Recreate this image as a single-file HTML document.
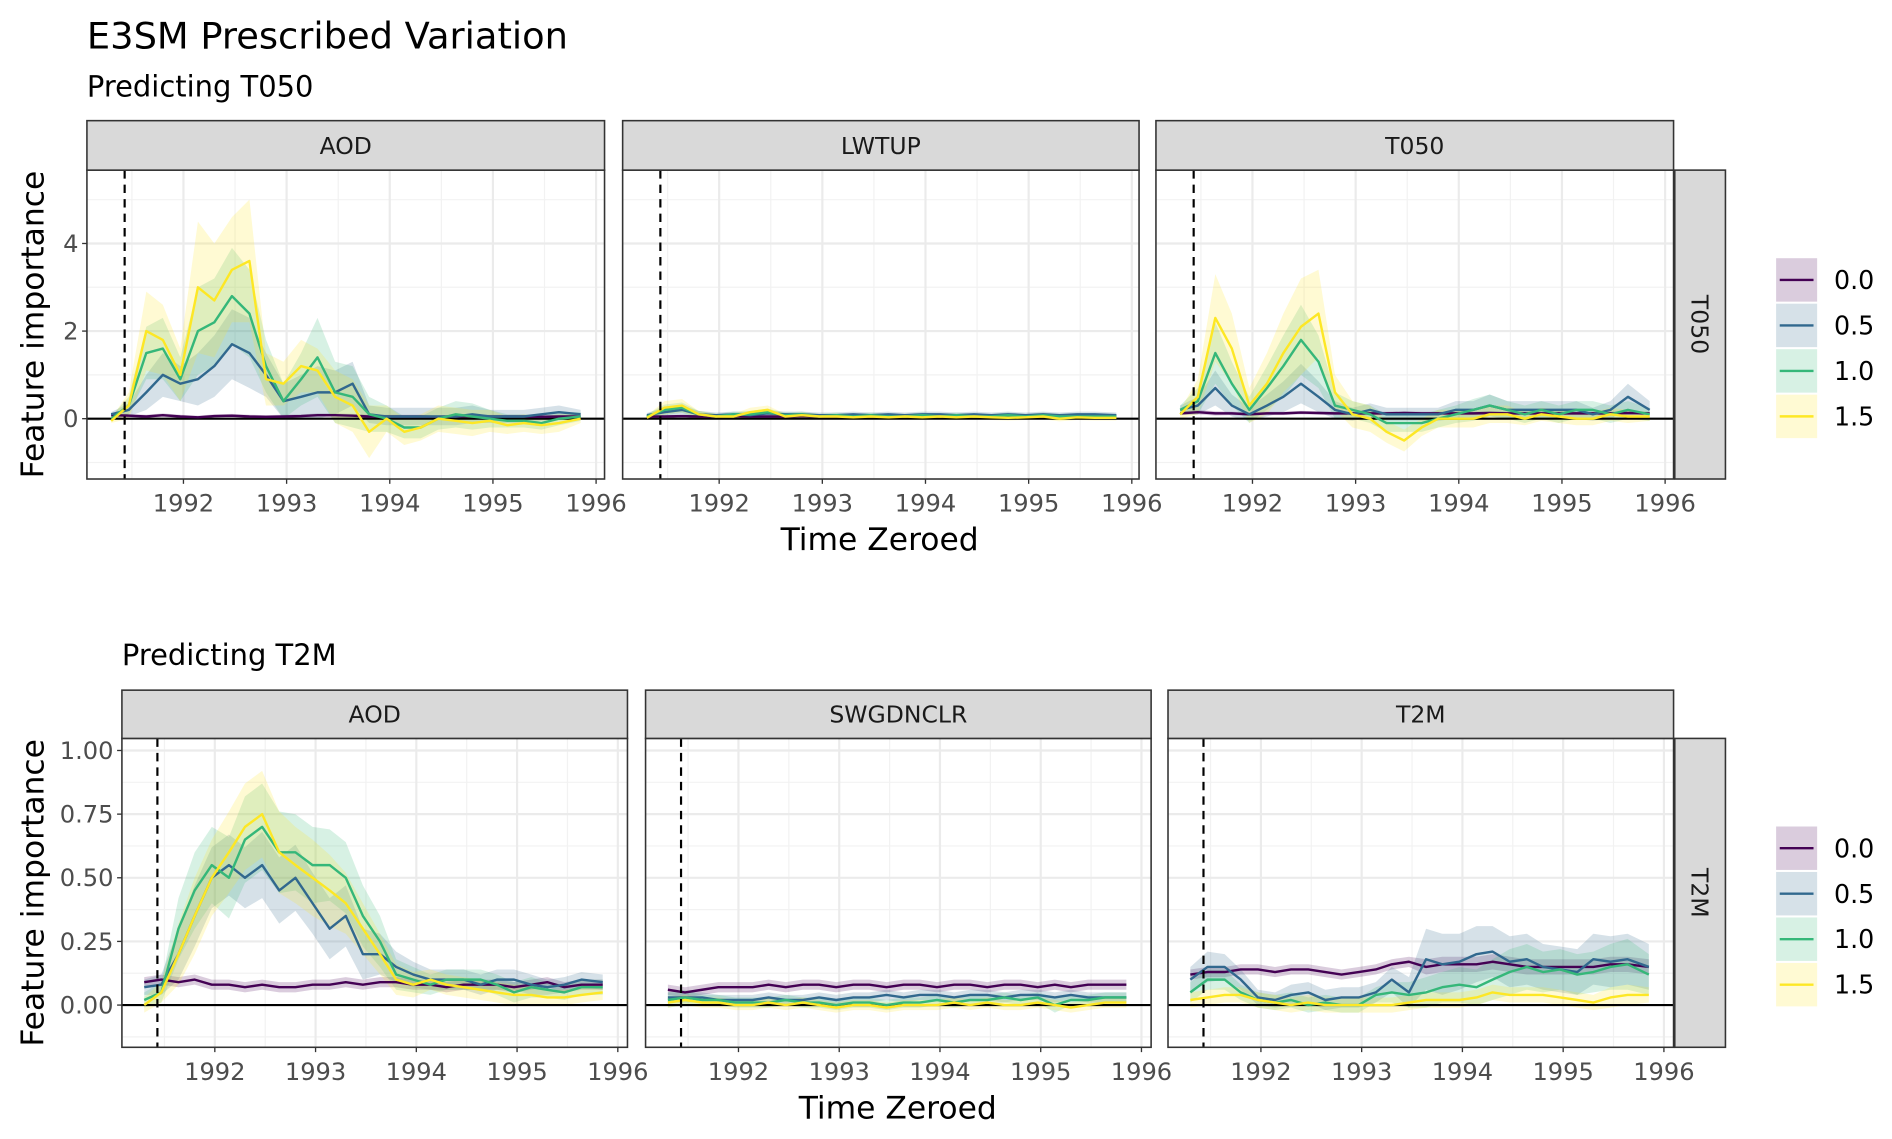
<!DOCTYPE html>
<html><head><meta charset="utf-8"><style>
html,body{margin:0;padding:0;background:#fff;}
svg{display:block;font-family:"DejaVu Sans","Liberation Sans",sans-serif;}
</style></head><body>
<svg id="chart" width="1892" height="1139" viewBox="0 0 1568 944" xmlns="http://www.w3.org/2000/svg">
<text x="72" y="40" font-size="30.5" fill="#000">E3SM Prescribed Variation</text>
<text x="72" y="80" font-size="24" fill="#000">Predicting T050</text>
<text x="101" y="551" font-size="24" fill="#000">Predicting T2M</text>
<g id="plots"></g>
</svg>
<script>
// time axis: bimonthly
const times = [1991.3,1991.47,1991.64,1991.8,1991.97,1992.14,1992.3,1992.47,1992.64,1992.8,1992.97,1993.14,1993.3,1993.47,1993.64,1993.8,1993.97,1994.14,1994.3,1994.47,1994.64,1994.8,1994.97,1995.14,1995.3,1995.47,1995.64,1995.85];
const levels = ["0.0","0.5","1.0","1.5"];
const colors = ["#440154","#31688E","#35B779","#FDE725"];
const eventYear = 1991.43;
const xTicks = [1992,1993,1994,1995,1996];
const topYTicks = [0,2,4];
const botYTicks = [0,0.25,0.5,0.75,1];
const botYLabels = ["0.00","0.25","0.50","0.75","1.00"];

// Top row: predicting T050
const tAOD_m = [
[0.08,0.07,0.05,0.08,0.05,0.03,0.06,0.07,0.05,0.04,0.05,0.06,0.08,0.08,0.07,0.05,0.05,0.05,0.05,0.04,0.05,0.06,0.05,0.05,0.05,0.04,0.05,0.05],
[0.1,0.2,0.6,1.0,0.8,0.9,1.2,1.7,1.5,1.0,0.4,0.5,0.6,0.6,0.8,0.1,0.05,0.05,0.05,0.05,0.05,0.1,0.05,0.05,0.05,0.1,0.15,0.1],
[0,0.3,1.5,1.6,0.9,2.0,2.2,2.8,2.4,1.2,0.4,0.9,1.4,0.6,0.5,0.1,0,-0.2,-0.2,0,0.1,0.05,0,-0.05,-0.05,-0.1,0,0.05],
[-0.05,0.3,2.0,1.8,1.0,3.0,2.7,3.4,3.6,0.9,0.8,1.2,1.1,0.5,0.3,-0.3,0,-0.3,-0.2,0,-0.05,-0.1,-0.05,-0.15,-0.1,-0.15,-0.1,0]];
const tAOD_s = [
[0.04,0.04,0.04,0.04,0.04,0.04,0.04,0.04,0.04,0.04,0.04,0.04,0.04,0.04,0.04,0.04,0.04,0.04,0.04,0.04,0.04,0.04,0.04,0.04,0.04,0.04,0.04,0.04],
[0.05,0.15,0.4,0.5,0.4,0.6,0.7,0.8,0.8,0.5,0.4,0.5,0.6,0.5,0.5,0.2,0.2,0.2,0.2,0.2,0.2,0.2,0.15,0.15,0.15,0.15,0.15,0.1],
[0.05,0.2,0.6,0.7,0.5,1.0,1.0,1.1,1.0,0.6,0.4,0.6,0.9,0.7,0.7,0.4,0.3,0.25,0.25,0.25,0.3,0.3,0.2,0.15,0.15,0.15,0.15,0.1],
[0.05,0.3,0.9,0.8,0.6,1.5,1.3,1.2,1.4,0.6,0.5,0.6,0.5,0.6,0.6,0.6,0.3,0.3,0.3,0.3,0.3,0.3,0.25,0.2,0.2,0.2,0.2,0.1]];
const tLW_m = [
[0.05,0.05,0.06,0.05,0.05,0.06,0.05,0.05,0.05,0.06,0.05,0.05,0.05,0.05,0.05,0.05,0.05,0.05,0.05,0.05,0.05,0.05,0.05,0.05,0.05,0.05,0.05,0.05],
[0.08,0.15,0.2,0.1,0.08,0.1,0.08,0.12,0.1,0.1,0.08,0.08,0.1,0.08,0.1,0.08,0.1,0.1,0.08,0.1,0.08,0.1,0.08,0.1,0.08,0.1,0.1,0.08],
[0.05,0.2,0.25,0.1,0.05,0.1,0.1,0.15,0.08,0.1,0.05,0.08,0.05,0.08,0.05,0.05,0.08,0.05,0.08,0.05,0.05,0.08,0.05,0.08,0.05,0.05,0.05,0.05],
[0.02,0.25,0.3,0.1,0.05,0.05,0.15,0.2,0.05,0.08,0.05,0.05,0.03,0.05,0.03,0.05,0.03,0.05,0.03,0.05,0.03,0.02,0.03,0.05,0.0,0.03,0.02,0.02]];
const tLW_s = [
[0.03,0.03,0.03,0.03,0.03,0.03,0.03,0.03,0.03,0.03,0.03,0.03,0.03,0.03,0.03,0.03,0.03,0.03,0.03,0.03,0.03,0.03,0.03,0.03,0.03,0.03,0.03,0.03],
[0.05,0.1,0.1,0.08,0.06,0.06,0.06,0.06,0.06,0.06,0.06,0.06,0.06,0.06,0.06,0.06,0.06,0.06,0.06,0.06,0.06,0.06,0.06,0.06,0.06,0.06,0.06,0.06],
[0.05,0.12,0.12,0.08,0.06,0.06,0.08,0.08,0.06,0.06,0.06,0.06,0.06,0.06,0.06,0.06,0.06,0.06,0.06,0.06,0.06,0.06,0.06,0.06,0.06,0.06,0.06,0.06],
[0.05,0.15,0.15,0.08,0.06,0.06,0.1,0.1,0.06,0.06,0.06,0.06,0.06,0.06,0.06,0.06,0.06,0.06,0.06,0.06,0.06,0.06,0.06,0.06,0.06,0.06,0.06,0.06]];
const tT_m = [
[0.12,0.15,0.12,0.12,0.1,0.12,0.12,0.14,0.13,0.12,0.12,0.12,0.12,0.13,0.12,0.12,0.12,0.12,0.13,0.12,0.12,0.12,0.12,0.12,0.12,0.12,0.13,0.12],
[0.2,0.3,0.7,0.3,0.1,0.3,0.5,0.8,0.5,0.2,0.1,0.2,0.1,0.1,0.1,0.1,0.2,0.2,0.3,0.2,0.2,0.2,0.2,0.2,0.1,0.2,0.5,0.2],
[0.2,0.4,1.5,0.8,0.2,0.7,1.2,1.8,1.3,0.3,0.2,0.1,-0.1,-0.1,-0.1,0,0.1,0.2,0.3,0.2,0.1,0.2,0.1,0.2,0.2,0.1,0.2,0.1],
[0.1,0.5,2.3,1.6,0.3,0.8,1.5,2.1,2.4,0.6,0.1,0,-0.3,-0.5,-0.2,0,0,0,0.1,0.1,0,0.1,0.05,0,0,0.1,0.05,0.05]];
const tT_s = [
[0.04,0.05,0.05,0.04,0.04,0.04,0.04,0.04,0.04,0.04,0.04,0.04,0.04,0.04,0.04,0.04,0.04,0.04,0.04,0.04,0.04,0.04,0.04,0.04,0.04,0.04,0.04,0.04],
[0.1,0.2,0.4,0.25,0.15,0.25,0.35,0.45,0.35,0.2,0.15,0.15,0.15,0.15,0.15,0.15,0.2,0.2,0.25,0.2,0.2,0.2,0.2,0.2,0.15,0.2,0.3,0.2],
[0.1,0.3,0.7,0.5,0.3,0.5,0.7,0.8,0.6,0.3,0.2,0.2,0.2,0.2,0.2,0.2,0.2,0.25,0.25,0.2,0.2,0.2,0.2,0.2,0.2,0.2,0.2,0.15],
[0.1,0.4,1.0,0.8,0.4,0.7,0.9,1.1,1.0,0.4,0.3,0.3,0.25,0.25,0.2,0.2,0.2,0.2,0.2,0.2,0.15,0.15,0.15,0.15,0.15,0.15,0.15,0.1]];

// Bottom row: predicting T2M
const bAOD_m = [
[0.09,0.1,0.09,0.1,0.08,0.08,0.07,0.08,0.07,0.07,0.08,0.08,0.09,0.08,0.09,0.09,0.08,0.08,0.07,0.08,0.08,0.08,0.07,0.08,0.09,0.07,0.08,0.08],
[0.07,0.08,0.2,0.35,0.5,0.55,0.5,0.55,0.45,0.5,0.4,0.3,0.35,0.2,0.2,0.15,0.12,0.1,0.1,0.1,0.08,0.1,0.1,0.08,0.07,0.08,0.1,0.09],
[0.02,0.05,0.3,0.45,0.55,0.5,0.65,0.7,0.6,0.6,0.55,0.55,0.5,0.35,0.25,0.12,0.1,0.08,0.1,0.1,0.1,0.08,0.05,0.07,0.06,0.05,0.07,0.07],
[0,0.05,0.2,0.35,0.5,0.6,0.7,0.75,0.6,0.55,0.5,0.45,0.4,0.3,0.2,0.1,0.08,0.1,0.08,0.07,0.06,0.05,0.04,0.04,0.03,0.03,0.04,0.05]];
const bAOD_s = [
[0.02,0.02,0.02,0.02,0.02,0.02,0.02,0.02,0.02,0.02,0.02,0.02,0.02,0.02,0.02,0.02,0.02,0.02,0.02,0.02,0.02,0.02,0.02,0.02,0.02,0.02,0.02,0.02],
[0.03,0.04,0.1,0.12,0.12,0.12,0.12,0.13,0.13,0.13,0.12,0.12,0.12,0.1,0.08,0.06,0.05,0.04,0.04,0.04,0.04,0.04,0.04,0.04,0.03,0.03,0.03,0.03],
[0.03,0.04,0.12,0.15,0.15,0.16,0.17,0.17,0.16,0.15,0.15,0.14,0.14,0.12,0.1,0.06,0.05,0.04,0.04,0.04,0.04,0.04,0.04,0.04,0.03,0.03,0.03,0.03],
[0.03,0.04,0.12,0.15,0.15,0.16,0.17,0.17,0.16,0.15,0.15,0.14,0.12,0.1,0.08,0.06,0.05,0.04,0.04,0.04,0.04,0.04,0.04,0.04,0.03,0.03,0.03,0.03]];
const bSW_m = [
[0.06,0.05,0.06,0.07,0.07,0.07,0.08,0.07,0.08,0.08,0.07,0.08,0.08,0.07,0.08,0.08,0.07,0.08,0.08,0.07,0.08,0.08,0.07,0.08,0.07,0.08,0.08,0.08],
[0.03,0.03,0.03,0.02,0.02,0.02,0.03,0.02,0.02,0.03,0.02,0.03,0.03,0.04,0.03,0.04,0.04,0.03,0.04,0.04,0.03,0.04,0.04,0.03,0.04,0.03,0.03,0.03],
[0.02,0.03,0.02,0.02,0.01,0.01,0.01,0.02,0.01,0.01,0.0,0.01,0.01,0.0,0.01,0.01,0.02,0.01,0.02,0.02,0.03,0.02,0.03,0.0,0.02,0.02,0.03,0.03],
[0.01,0.02,0.01,0.01,0.0,0.0,0.01,0.0,0.01,0.0,-0.01,0.0,0.0,-0.01,0.0,0.0,0.0,0.01,0.0,0.01,0.0,0.0,0.01,0.0,-0.01,0.0,0.01,0.01]];
const bSW_s = [
[0.02,0.02,0.02,0.02,0.02,0.02,0.02,0.02,0.02,0.02,0.02,0.02,0.02,0.02,0.02,0.02,0.02,0.02,0.02,0.02,0.02,0.02,0.02,0.02,0.02,0.02,0.02,0.02],
[0.02,0.02,0.02,0.02,0.02,0.02,0.02,0.02,0.02,0.02,0.02,0.02,0.02,0.02,0.02,0.02,0.02,0.02,0.02,0.02,0.02,0.02,0.02,0.02,0.02,0.02,0.02,0.02],
[0.03,0.03,0.02,0.02,0.02,0.02,0.02,0.02,0.02,0.02,0.02,0.02,0.02,0.02,0.02,0.02,0.02,0.02,0.02,0.02,0.02,0.02,0.02,0.03,0.02,0.02,0.02,0.02],
[0.02,0.02,0.02,0.02,0.02,0.02,0.02,0.02,0.02,0.02,0.02,0.02,0.02,0.02,0.02,0.02,0.02,0.02,0.02,0.02,0.02,0.02,0.02,0.02,0.02,0.02,0.02,0.02]];
const bT_m = [
[0.12,0.13,0.13,0.14,0.14,0.13,0.14,0.14,0.13,0.12,0.13,0.14,0.16,0.17,0.15,0.16,0.16,0.16,0.17,0.16,0.15,0.15,0.15,0.15,0.15,0.16,0.16,0.15],
[0.1,0.15,0.15,0.1,0.03,0.02,0.04,0.05,0.02,0.03,0.03,0.05,0.1,0.05,0.18,0.16,0.17,0.2,0.21,0.17,0.18,0.15,0.14,0.13,0.18,0.17,0.18,0.15],
[0.05,0.1,0.1,0.05,0.02,0.01,0.02,0.0,0.01,0.0,0.0,0.04,0.05,0.04,0.05,0.07,0.08,0.07,0.1,0.13,0.15,0.13,0.14,0.12,0.13,0.15,0.16,0.12],
[0.02,0.03,0.04,0.04,0.02,0.01,0.0,0.01,0.0,0.0,0.0,0.0,0.0,0.01,0.02,0.02,0.02,0.03,0.05,0.04,0.04,0.04,0.03,0.02,0.01,0.03,0.04,0.04]];
const bT_s = [
[0.02,0.02,0.02,0.02,0.02,0.02,0.02,0.02,0.02,0.02,0.02,0.02,0.02,0.02,0.03,0.03,0.03,0.03,0.03,0.03,0.03,0.03,0.03,0.03,0.03,0.03,0.03,0.03],
[0.05,0.06,0.05,0.04,0.03,0.03,0.04,0.04,0.04,0.04,0.04,0.04,0.05,0.06,0.12,0.12,0.11,0.11,0.1,0.1,0.1,0.09,0.09,0.09,0.1,0.1,0.1,0.09],
[0.04,0.04,0.04,0.03,0.03,0.03,0.03,0.03,0.03,0.03,0.03,0.03,0.04,0.05,0.06,0.06,0.07,0.07,0.08,0.09,0.09,0.08,0.08,0.08,0.08,0.09,0.1,0.08],
[0.03,0.03,0.03,0.03,0.03,0.03,0.03,0.03,0.03,0.03,0.03,0.03,0.03,0.03,0.03,0.03,0.03,0.03,0.03,0.03,0.03,0.03,0.03,0.03,0.03,0.04,0.04,0.03]];

const NS="http://www.w3.org/2000/svg";
const root=document.getElementById('plots');
function el(tag,attrs,parent){const e=document.createElementNS(NS,tag);for(const k in attrs)e.setAttribute(k,attrs[k]);(parent||root).appendChild(e);return e;}

function panel(cfg){
  const g=el('g',{});
  
  
  const {x0,x1,y0,y1,xOff,pxYear,zeroY,pxUnit}=cfg;
  const X=t=>x0+xOff+(t-1992)*pxYear;
  const Y=v=>zeroY-v*pxUnit;
  el('rect',{x:x0,y:y0,width:x1-x0,height:y1-y0,fill:'#fff'},g);
  for(let t=1991;t<=1996;t++){const xm=X(t+0.5);if(xm>x0&&xm<x1)el('line',{x1:xm,x2:xm,y1:y0,y2:y1,stroke:'#f2f2f2','stroke-width':1},g);}
  cfg.minorY.forEach(v=>{const y=Y(v);if(y>y0&&y<y1)el('line',{x1:x0,x2:x1,y1:y,y2:y,stroke:'#f2f2f2','stroke-width':1},g);});
  xTicks.forEach(t=>el('line',{x1:X(t),x2:X(t),y1:y0,y2:y1,stroke:'#ebebeb','stroke-width':1.8},g));
  cfg.yTicks.forEach(v=>el('line',{x1:x0,x2:x1,y1:Y(v),y2:Y(v),stroke:'#ebebeb','stroke-width':1.8},g));
  cfg.means.forEach((m,si)=>{
    const s=cfg.sds[si];
    let d='M'+times.map((t,i)=>X(t).toFixed(1)+','+Y(m[i]+s[i]).toFixed(1)).join('L');
    d+='L'+times.slice().reverse().map((t,j)=>{const i=times.length-1-j;return X(t).toFixed(1)+','+Y(m[i]-s[i]).toFixed(1);}).join('L')+'Z';
    const r=el('path',{d:d,fill:colors[si],'fill-opacity':0.2},g);
    
    
  });
  el('line',{x1:x0,x2:x1,y1:Y(0),y2:Y(0),stroke:'#000','stroke-width':1.8},g);
  cfg.means.forEach((m,si)=>{
    const p=el('polyline',{points:times.map((t,i)=>X(t).toFixed(1)+','+Y(m[i]).toFixed(1)).join(' '),fill:'none',stroke:colors[si],'stroke-width':2,'stroke-linejoin':'round'},g);
    
    
  });
  el('line',{x1:X(eventYear),x2:X(eventYear),y1:y0,y2:y1,stroke:'#000','stroke-width':1.8,'stroke-dasharray':'7,5'},g);
  el('rect',{x:x0,y:y0,width:x1-x0,height:y1-y0,fill:'none',stroke:'#333','stroke-width':1.3},g);
  const st=el('rect',{x:x0,y:cfg.sy,width:x1-x0,height:y0-cfg.sy,fill:'#d9d9d9',stroke:'#333','stroke-width':1.3},g);
  
  
  const tx=el('text',{x:(x0+x1)/2,y:(cfg.sy+y0)/2+7,'text-anchor':'middle','font-size':19.5,fill:'#1a1a1a'},g);tx.textContent=cfg.label;
  xTicks.forEach(t=>{el('line',{x1:X(t),x2:X(t),y1:y1,y2:y1+4,stroke:'#333','stroke-width':1.1},g);
    const l=el('text',{x:X(t),y:y1+27,'text-anchor':'middle','font-size':20,fill:'#4d4d4d'},g);l.textContent=t;});
  if(cfg.showY){cfg.yTicks.forEach((v,i)=>{el('line',{x1:x0-4,x2:x0,y1:Y(v),y2:Y(v),stroke:'#333','stroke-width':1.1},g);
    const l=el('text',{x:x0-7,y:Y(v)+7,'text-anchor':'end','font-size':20,fill:'#4d4d4d'},g);l.textContent=cfg.yLabels[i];});}
}
function row(r){
  const xs=r.xs, names=r.labels, ms=r.means, ss=r.sds;
  xs.forEach((xx,i)=>panel({name:'panel-'+r.key+'-'+names[i].toLowerCase(),label:names[i],x0:xx[0],x1:xx[1],y0:r.y0,y1:r.y1,sy:r.sy,xOff:r.xOff,pxYear:r.pxYear,zeroY:r.zeroY,pxUnit:r.pxUnit,yTicks:r.yTicks,yLabels:r.yLabels,minorY:r.minorY,means:ms[i],sds:ss[i],showY:i===0}));
  const sr=el('rect',{x:1388,y:r.y0,width:42,height:r.y1-r.y0,fill:'#d9d9d9',stroke:'#333','stroke-width':1.3});
  
  
  const cy=(r.y0+r.y1)/2;
  const t=el('text',{x:1409,y:cy,'text-anchor':'middle','font-size':19.5,fill:'#1a1a1a',transform:'rotate(90 1409 '+cy+')',dy:7});t.textContent=r.rowLabel;
  const yt=el('text',{x:0,y:0,'text-anchor':'middle','font-size':26,fill:'#000',transform:'translate('+(r.yTitleX)+' '+cy+') rotate(-90)'});yt.textContent='Feature importance';
  
  
  const xt=el('text',{x:r.xTitleX,y:r.xTitleY,'text-anchor':'middle','font-size':26,fill:'#000'});xt.textContent='Time Zeroed';
  
  
  const lg=el('g',{});
  
  
  levels.forEach((lv,i)=>{const ky=r.legY+i*37.7;
    const e=el('g',{},lg);
    
    
    el('rect',{x:1472,y:ky-18,width:34,height:36,fill:colors[i],'fill-opacity':0.2},e);
    el('line',{x1:1475,x2:1503,y1:ky,y2:ky,stroke:colors[i],'stroke-width':2},e);
    const tl=el('text',{x:1520,y:ky+7.5,'font-size':21,fill:'#000'},e);tl.textContent=lv;});
}
row({key:'t050',labels:['AOD','LWTUP','T050'],xs:[[72,501],[516,944],[958,1387]],y0:141,y1:397,sy:100,xOff:80,pxYear:85.5,zeroY:347,pxUnit:36.3,
  yTicks:topYTicks,yLabels:['0','2','4'],minorY:[-1,1,3,5],means:[tAOD_m,tLW_m,tT_m],sds:[tAOD_s,tLW_s,tT_s],rowLabel:'T050',yTitleX:36,xTitleX:729,xTitleY:456,legY:232});
row({key:'t2m',labels:['AOD','SWGDNCLR','T2M'],xs:[[101,520],[535,954],[968,1387]],y0:612,y1:868,sy:572,xOff:77,pxYear:83.5,zeroY:833,pxUnit:211,
  yTicks:botYTicks,yLabels:botYLabels,minorY:[-0.125,0.125,0.375,0.625,0.875,1.125],means:[bAOD_m,bSW_m,bT_m],sds:[bAOD_s,bSW_s,bT_s],rowLabel:'T2M',yTitleX:36,xTitleX:744,xTitleY:927,legY:703});
</script>
</body></html>
